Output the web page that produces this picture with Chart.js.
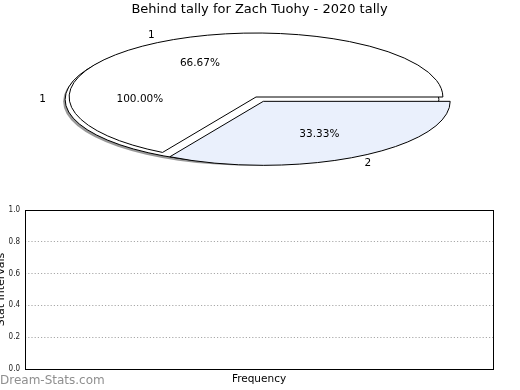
<!DOCTYPE html>
<html><head><meta charset="utf-8">
<script src="https://cdn.jsdelivr.net/npm/chart.js@4"></script>
<style>
html,body{margin:0;padding:0;width:520px;height:390px;overflow:hidden;background:#fff;}
body{position:relative;}
#back{position:absolute;left:0;top:2px;}
#front{position:absolute;left:0;top:0;}
#ax{position:absolute;left:-9px;top:200px;}
#wm{position:absolute;left:0;top:374px;font:12px "DejaVu Sans";line-height:12px;color:#8f8f8f;white-space:nowrap;}
</style></head><body>
<canvas id="back" width="520" height="190"></canvas>
<canvas id="front" width="520" height="190"></canvas>
<canvas id="ax" width="529" height="190"></canvas>
<div id="wm"></div>
<script>
// ---- data ----
const titleText = 'Behind tally for Zach Tuohy - 2020 tally';
const pieLabels = ['1', '2'];
const backValues = [1];          // one category -> 100.00%
const frontValues = [2, 1];      // 66.67% / 33.33%
const yTickLabels = ['0.0', '0.2', '0.4', '0.6', '0.8', '1.0'];
const yTitle = 'Stat Intervals';
const xTitle = 'Frequency';
const watermark = 'Dream-Stats.com';

// ---- styling ----
const ASPECT = 2.92;             // horizontal stretch of the pie (ellipse)
const FONT = 'DejaVu Sans';
const pieCharts = [];

function pieGeometry(chart) {
  const metas = chart.data.datasets.map((d, i) => chart.getDatasetMeta(i));
  let R = 0;
  metas.forEach(m => m.data.forEach(a => { R = Math.max(R, a.outerRadius); }));
  const ry = R, rx = R * ASPECT;
  const items = [];
  metas.forEach((m, di) => {
    const vals = chart.data.datasets[di].data;
    const total = vals.reduce((s, v) => s + v, 0);
    m.data.forEach((arc, i) => {
      const mid = (arc.startAngle + arc.endAngle) / 2;
      const off = arc.options.offset || 0;
      items.push({ arc, mid, val: vals[i], total, label: pieLabels[i],
        cx: arc.x + Math.cos(mid) * off * ASPECT, cy: arc.y + Math.sin(mid) * off });
    });
  });
  return { rx, ry, items };
}

const ellipsePie = {
  id: 'ellipsePie',
  beforeDatasetsDraw(chart, args, opts) {
    const ctx = chart.ctx;
    const { rx, ry, items } = pieGeometry(chart);
    ctx.save();
    items.forEach(({ arc, cx, cy }) => {
      const full = (arc.endAngle - arc.startAngle) >= 2 * Math.PI - 1e-6;
      const path = (dx, dy) => {
        ctx.beginPath();
        if (!full) ctx.moveTo(cx + dx, cy + dy);
        ctx.ellipse(cx + dx, cy + dy, rx, ry, 0, arc.startAngle, arc.endAngle);
        ctx.closePath();
      };
      if (opts.shadow) {
        path(-2, 2);
        ctx.fillStyle = 'rgba(0,0,0,0.4)';
        ctx.fill();
      }
      path(0, 0);
      ctx.fillStyle = arc.options.backgroundColor;
      ctx.fill();
      ctx.lineWidth = arc.options.borderWidth;
      ctx.strokeStyle = arc.options.borderColor;
      ctx.stroke();
    });
    if (opts.drawLabels) {
      ctx.font = '10.5px "' + FONT + '"';
      ctx.fillStyle = '#000';
      ctx.textAlign = 'center';
      ctx.textBaseline = 'middle';
      const all = pieCharts.includes(chart) ? pieCharts : pieCharts.concat([chart]);
      all.forEach(c => {
        const g = pieGeometry(c);
        const ox = c.canvas.offsetLeft - chart.canvas.offsetLeft;
        const oy = c.canvas.offsetTop - chart.canvas.offsetTop;
        g.items.forEach(it => {
          const pct = (it.val / it.total * 100).toFixed(2) + '%';
          ctx.fillText(pct, ox + it.cx + Math.cos(it.mid) * g.rx * 0.6, oy + it.cy + Math.sin(it.mid) * g.ry * 0.6);
          ctx.fillText(it.label, ox + it.cx + Math.cos(it.mid) * g.rx * 1.12, oy + it.cy + Math.sin(it.mid) * g.ry * 1.12);
        });
      });
    }
    ctx.restore();
    return false;
  }
};

// back pie (single category, 100%), with shadow, carries the title
const backChart = new Chart(document.getElementById('back'), {
  type: 'pie',
  data: {
    labels: pieLabels,
    datasets: [
      { data: backValues, rotation: 90, offset: 2.57,
        backgroundColor: ['#ffffff'], borderColor: '#000', borderWidth: 1 }
    ]
  },
  options: {
    responsive: false, animation: false, radius: 64,
    layout: { padding: { top: 0, right: 1, left: 0, bottom: 18.6 } },
    plugins: {
      legend: { display: false }, tooltip: { enabled: false },
      ellipsePie: { shadow: true, drawLabels: false },
      title: { display: true, text: titleText, color: '#000',
               font: { family: FONT, size: 13, weight: 'normal' }, padding: { top: 0, bottom: 8 } }
    }
  },
  plugins: [ellipsePie]
});
pieCharts.push(backChart);

// front pie (two categories); draws all pie labels on top
const frontChart = new Chart(document.getElementById('front'), {
  type: 'pie',
  data: {
    labels: pieLabels,
    datasets: [
      { data: frontValues, rotation: 210, offset: [0, 5],
        backgroundColor: ['#ffffff', '#eaf0fc'], borderColor: '#000', borderWidth: 1 }
    ]
  },
  options: {
    responsive: false, animation: false, radius: 64,
    layout: { padding: { top: 25.6, right: 8, left: 0, bottom: 21.6 } },
    plugins: {
      legend: { display: false }, tooltip: { enabled: false },
      ellipsePie: { shadow: false, drawLabels: true }, title: { display: false }
    }
  },
  plugins: [ellipsePie]
});
pieCharts.push(frontChart);
frontChart.draw();

const frame = {
  id: 'frame',
  afterDraw(c) {
    const { left, top, right, bottom } = c.chartArea;
    const ctx = c.ctx;
    ctx.save();
    ctx.strokeStyle = '#000';
    ctx.lineWidth = 1;
    ctx.strokeRect(Math.round(left) + 0.5, Math.round(top) + 0.5, Math.round(right - left), Math.round(bottom - top));
    ctx.restore();
  }
};

new Chart(document.getElementById('ax'), {
  type: 'scatter',
  data: { datasets: [{ data: [] }] },
  options: {
    responsive: false, animation: false,
    layout: { padding: { top: 10, right: 27, left: 0, bottom: 0 } },
    plugins: { legend: { display: false }, tooltip: { enabled: false } },
    scales: {
      x: { type: 'linear', min: 0, max: 1,
           ticks: { display: false }, grid: { display: false }, border: { display: false },
           title: { display: true, text: xTitle, color: '#000', font: { family: FONT, size: 10.5 }, padding: { top: 0, bottom: 4 } },
           afterFit(s) { s.height = 21; } },
      y: { type: 'linear', min: 0, max: 1,
           ticks: { stepSize: 0.2, callback: (v, i) => yTickLabels[i], color: '#222',
                    font: { family: 'DejaVu Sans Condensed', size: 8 }, padding: 5 },
           grid: { drawTicks: false, lineWidth: 1,
                   color: c => (c.tick && (c.index === 0 || c.index === yTickLabels.length - 1)) ? 'rgba(0,0,0,0)' : '#a8a8a8' },
           border: { display: false, dash: [1.2, 2] },
           title: { display: true, text: yTitle, color: '#000', font: { family: FONT, size: 11 }, padding: { top: 4, bottom: 0 } },
           afterFit(s) { s.width = 34; } }
    }
  },
  plugins: [frame]
});
document.getElementById('wm').textContent = watermark;
</script>
</body></html>
